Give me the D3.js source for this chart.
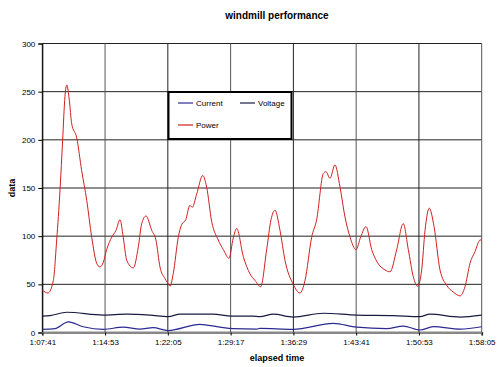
<!DOCTYPE html>
<html><head><meta charset="utf-8">
<script src="https://cdn.jsdelivr.net/npm/d3@7"></script>
<style>body{margin:0;background:#fff;}svg{display:block;font-family:"Liberation Sans",Arial,sans-serif;}</style>
</head><body><svg id="c" width="500" height="367"></svg>
<script>
// elapsed seconds after 1:07:41 (4061 s)
const startSec = 4061;
const tickLabels = ["1:07:41","1:14:53","1:22:05","1:29:17","1:36:29","1:43:41","1:50:53","1:58:05"];
const yTicks = [0,50,100,150,200,250,300];
const seriesNames = ["Current","Voltage","Power"];
const powerT = [0,39,76,99,122,140,156,168,186,202,237,271,306,340,374,397,420,443,478,507,535,557,581,626,661,684,714,753,782,810,844,874,879,901,936,959,987,1016,1032,1063,1104,1131,1166,1211,1246,1285,1314,1338,1383,1429,1464,1503,1544,1574,1601,1636,1670,1727,1773,1808,1854,1888,1934,1952,1980,2014,2049,2083,2118,2159,2191,2228,2267,2305,2358,2393,2439,2484,2519,2553,2583,2611,2634,2663,2696,2737,2783,2829,2875,2909,2944,2978,3013,3024];
const powerV = [44,41,54,96,148,200,245,257,241,217,202,168,137,99,72,68,73,86,99,106,117,99,75,67,89,113,121,106,96,68,56,49,48,61,99,112,117,132,130,144,163,151,115,96,86,77,98,108,79,61,54,47.5,86,117,127,106,75,50,41,54,99,117,165,167,160,174,151,120,99,86,99,110,86,73,65,63,86,113,86,58,48,65,106,129,110,65,49,42,38,47.5,72,84,96,96];
const currentT = [0,87,179,282,420,557,672,762,867,1085,1223,1312,1475,1498,1727,2003,2164,2370,2484,2599,2691,2875,3024];
const currentV = [3.3,4,11,6,3.3,5.5,3.5,5,2,8.5,5.5,4,3.5,4.3,3.3,9.5,5.5,4,6.7,2.6,6,3.5,6];
const voltageT = [0,53,168,420,581,741,867,948,1175,1303,1450,1498,1590,1727,1934,2164,2417,2599,2668,2875,3024];
const voltageV = [17,17.5,21,18,19,18,16.5,19,19,17,17,16.5,19,16,20,18,17.5,16.5,19,16,18];

const svg = d3.select("#c");
const L=42.3, R=481.7, T=43.5, B=332.5;
const x = d3.scaleLinear().domain([startSec, startSec+3024]).range([L,R]);
const y = d3.scaleLinear().domain([0,300]).range([B,T]);
const tickVals = tickLabels.map(s=>{const p=s.split(":").map(Number);return p[0]*3600+p[1]*60+p[2];});

// grid
const g = svg.append("g");
g.selectAll(".hg").data(yTicks).enter().append("line")
 .attr("x1",L).attr("x2",R).attr("y1",d=>y(d)).attr("y2",d=>y(d))
 .attr("stroke",d=>d===0?"#888":"#222").attr("stroke-width",d=>d===0?2:1);
g.selectAll(".vg").data(tickVals).enter().append("line")
 .attr("x1",d=>x(d)).attr("x2",d=>x(d)).attr("y1",T).attr("y2",B)
 .attr("stroke",(d,i)=>i%2===0?"#222":"#555").attr("stroke-width",1);

// axes
const yAxis = d3.axisLeft(y).tickValues(yTicks).tickSize(4).tickPadding(3);
const ya = svg.append("g").attr("transform",`translate(${L},0)`).call(yAxis);
ya.select(".domain").attr("stroke","#000");
ya.selectAll("text").attr("font-size",8).attr("fill","#000");
const xAxis = d3.axisBottom(x).tickValues(tickVals).tickFormat((d,i)=>tickLabels[i]).tickSize(3).tickPadding(4);
const xa = svg.append("g").attr("transform",`translate(0,${B})`).call(xAxis);
xa.select(".domain").attr("stroke","#888").attr("stroke-width",2);
xa.selectAll("text").attr("font-size",8).attr("fill","#000");

// lines
const line = d3.line().x(d=>x(startSec+d[0])).y(d=>y(d[1])).curve(d3.curveMonotoneX);
const mk = (T,V)=>T.map((t,i)=>[t,V[i]]);
svg.append("path").datum(mk(voltageT,voltageV)).attr("d",line).attr("fill","none").attr("stroke","#1a1a40").attr("stroke-width",1.2);
svg.append("path").datum(mk(currentT,currentV)).attr("d",line).attr("fill","none").attr("stroke","#2a2a90").attr("stroke-width",1.2);
svg.append("path").datum(mk(powerT,powerV)).attr("d",line).attr("fill","none").attr("stroke","#d02020").attr("stroke-width",1);

// legend
const lg = svg.append("g");
lg.append("rect").attr("x",168.5).attr("y",92).attr("width",123).attr("height",47).attr("fill","#fff").attr("stroke","#000").attr("stroke-width",2);
const legItems = [
 {n:seriesNames[0],c:"#2a2a90",x:178,y:103},
 {n:seriesNames[1],c:"#1a1a40",x:240,y:103},
 {n:seriesNames[2],c:"#d02020",x:178,y:125}];
legItems.forEach(it=>{
 lg.append("line").attr("x1",it.x).attr("x2",it.x+15).attr("y1",it.y).attr("y2",it.y).attr("stroke",it.c).attr("stroke-width",1.2);
 lg.append("text").attr("x",it.x+18).attr("y",it.y+3).attr("font-size",8).text(it.n);
});

// titles
svg.append("text").attr("x",277).attr("y",19).attr("text-anchor","middle").attr("font-size",10).attr("font-weight","bold").text("windmill performance");
svg.append("text").attr("x",277).attr("y",361).attr("text-anchor","middle").attr("font-size",9).attr("font-weight","bold").text("elapsed time");
svg.append("text").attr("transform","translate(15,188) rotate(-90)").attr("text-anchor","middle").attr("font-size",9).attr("font-weight","bold").text("data");
</script></body></html>
